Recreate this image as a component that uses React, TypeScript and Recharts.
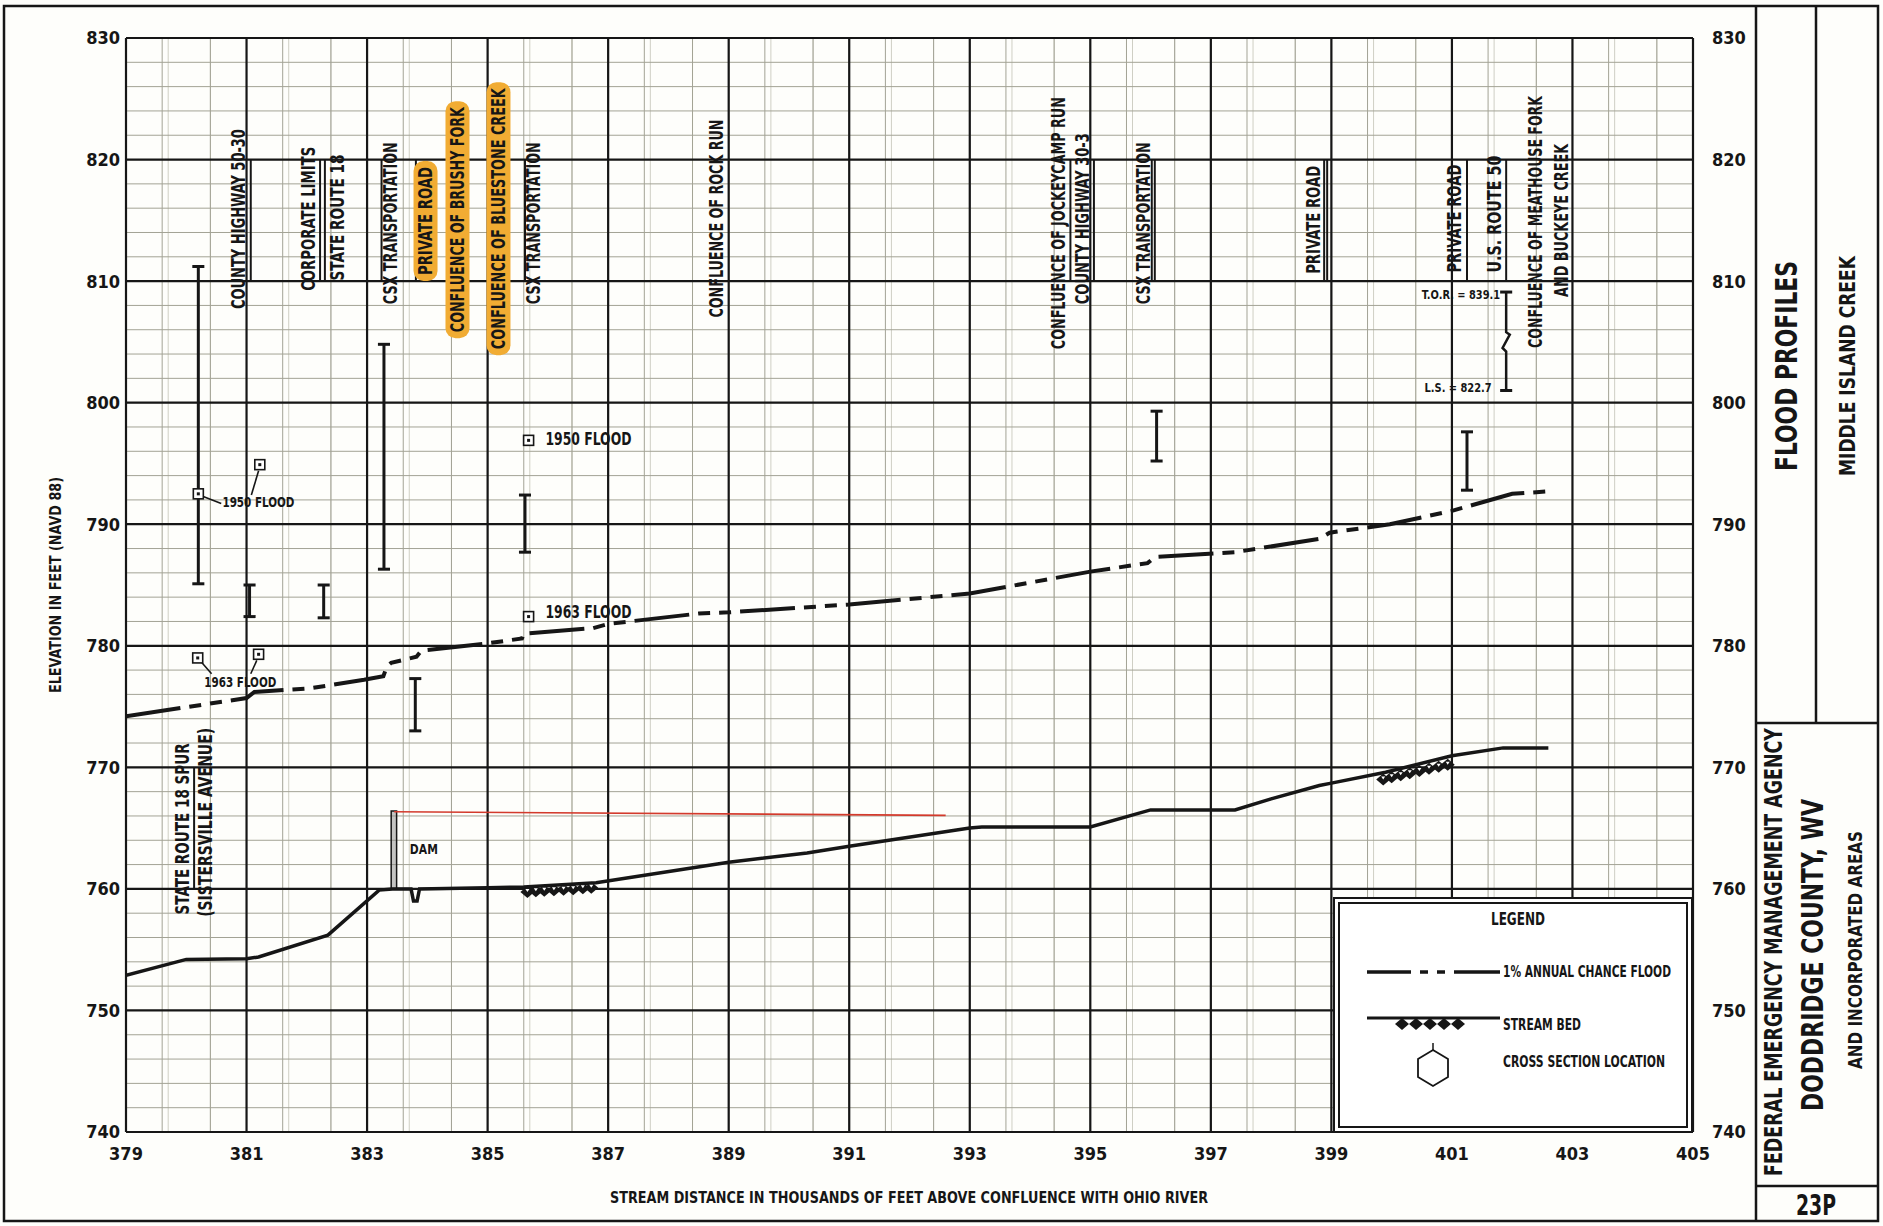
import React from "react"
import {
  ComposedChart,
  Line,
  Scatter,
  XAxis,
  YAxis,
  CartesianGrid,
  ReferenceLine,
  ReferenceArea,
} from "recharts"

const FONT = "'Liberation Sans Narrow', 'DejaVu Sans Condensed', 'Arial Narrow', sans-serif"
const INK = "#161616"

// axes
const xTicks = [379, 381, 383, 385, 387, 389, 391, 393, 395, 397, 399, 401, 403, 405]
const yTicks = [740, 750, 760, 770, 780, 790, 800, 810, 820, 830]
const fineX = Array.from({ length: 261 }, (_, i) => +(379 + i * 0.1).toFixed(1))
const minorX = Array.from({ length: 131 }, (_, i) => +(379 + i * 0.2).toFixed(1))
const minorY = Array.from({ length: 91 }, (_, i) => 740 + i)

// stream bed profile (thousand ft, ft)
const streamBed = [
  { x: 379, y: 752.9 },
  { x: 380.0, y: 754.2 },
  { x: 381.0, y: 754.25 },
  { x: 381.2, y: 754.4 },
  { x: 382.35, y: 756.2 },
  { x: 383.2, y: 759.9 },
  { x: 383.42, y: 760.0 },
  { x: 383.73, y: 760.0 },
  { x: 383.77, y: 759.0 },
  { x: 383.83, y: 759.0 },
  { x: 383.87, y: 760.0 },
  { x: 385.0, y: 760.1 },
  { x: 385.6, y: 760.15 },
  { x: 386.8, y: 760.5 },
  { x: 389.0, y: 762.2 },
  { x: 390.3, y: 762.95 },
  { x: 391.0, y: 763.5 },
  { x: 393.0, y: 765.0 },
  { x: 393.2, y: 765.1 },
  { x: 395.0, y: 765.1 },
  { x: 396.0, y: 766.5 },
  { x: 397.4, y: 766.5 },
  { x: 398.0, y: 767.4 },
  { x: 398.8, y: 768.5 },
  { x: 399.0, y: 768.7 },
  { x: 399.9, y: 769.6 },
  { x: 401.0, y: 770.95 },
  { x: 401.85, y: 771.6 },
  { x: 402.6, y: 771.6 },
]

// 1% annual chance flood
const floodProfile = [
  { x: 379, y: 774.2 },
  { x: 381.0, y: 775.7 },
  { x: 381.13, y: 776.2 },
  { x: 382.05, y: 776.5 },
  { x: 382.95, y: 777.2 },
  { x: 383.27, y: 777.5 },
  { x: 383.33, y: 778.3 },
  { x: 383.4, y: 778.6 },
  { x: 383.82, y: 779.1 },
  { x: 383.9, y: 779.6 },
  { x: 385.0, y: 780.2 },
  { x: 385.57, y: 780.6 },
  { x: 385.6, y: 781.0 },
  { x: 386.75, y: 781.45 },
  { x: 387.0, y: 781.8 },
  { x: 388.5, y: 782.65 },
  { x: 389.0, y: 782.75 },
  { x: 391.0, y: 783.4 },
  { x: 393.0, y: 784.3 },
  { x: 395.0, y: 786.1 },
  { x: 395.95, y: 786.8 },
  { x: 396.07, y: 787.3 },
  { x: 397.4, y: 787.7 },
  { x: 398.8, y: 788.8 },
  { x: 398.97, y: 789.3 },
  { x: 399.97, y: 790.0 },
  { x: 401.0, y: 791.1 },
  { x: 402.0, y: 792.5 },
  { x: 402.6, y: 792.7 },
]

const damPool = [
  { x: 383.45, y: 766.35 },
  { x: 392.6, y: 766.05 },
]

const torBar = [
  { x: 401.9, y: 809.1 },
  { x: 401.9, y: 805.8 },
  { x: 401.96, y: 805.6 },
  { x: 401.84, y: 804.5 },
  { x: 401.9, y: 804.2 },
  { x: 401.9, y: 801.0 },
]

const bedHatch = [
  { x: 385.66, y: 759.75 },
  { x: 385.8, y: 759.8 },
  { x: 385.94, y: 759.84 },
  { x: 386.1, y: 759.88 },
  { x: 386.26, y: 759.93 },
  { x: 386.42, y: 759.98 },
  { x: 386.58, y: 760.05 },
  { x: 386.72, y: 760.1 },
  { x: 399.86, y: 769.0 },
  { x: 400.0, y: 769.18 },
  { x: 400.15, y: 769.35 },
  { x: 400.3, y: 769.52 },
  { x: 400.46, y: 769.7 },
  { x: 400.62, y: 769.88 },
  { x: 400.78, y: 770.05 },
  { x: 400.93, y: 770.22 },
]

// bridges / structures
const bridgeLines = [
  { x: 380.13, lo: 760, hi: 770 },
  { x: 381.07, lo: 810, hi: 820 },
  { x: 382.22, lo: 810, hi: 820 },
  { x: 382.3, lo: 810, hi: 820 },
  { x: 383.24, lo: 810, hi: 820 },
  { x: 383.81, lo: 810, hi: 820 },
  { x: 385.62, lo: 810, hi: 820 },
  { x: 394.67, lo: 810, hi: 820 },
  { x: 395.06, lo: 810, hi: 820 },
  { x: 396.02, lo: 810, hi: 820 },
  { x: 396.07, lo: 810, hi: 820 },
  { x: 398.88, lo: 810, hi: 820 },
  { x: 398.93, lo: 810, hi: 820 },
  { x: 401.25, lo: 810, hi: 820 },
  { x: 401.9, lo: 810, hi: 820 },
]

// cross section I-bars
const crossSections = [
  { x: 380.2, lo: 785.1, hi: 811.2 },
  { x: 381.05, lo: 782.4, hi: 785.0 },
  { x: 382.28, lo: 782.3, hi: 785.0 },
  { x: 383.28, lo: 786.3, hi: 804.8 },
  { x: 383.8, lo: 773.0, hi: 777.3 },
  { x: 385.62, lo: 787.7, hi: 792.4 },
  { x: 396.1, lo: 795.2, hi: 799.3 },
  { x: 401.25, lo: 792.8, hi: 797.6 },
]
const torCaps = [
  { x: 401.9, y: 809.1 },
  { x: 401.9, y: 801.0 },
]

// vertical labels: x = centre, y = bottom of text
const structureLabels = [
  { x: 380.86, y: 807.7, text: "COUNTY HIGHWAY 50-30", hl: false },
  { x: 382.03, y: 809.2, text: "CORPORATE LIMITS", hl: false },
  { x: 382.5, y: 810.05, text: "STATE ROUTE 18", hl: false },
  { x: 383.39, y: 808.1, text: "CSX TRANSPORTATION", hl: false },
  { x: 383.97, y: 810.5, text: "PRIVATE ROAD", hl: true },
  { x: 384.5, y: 805.8, text: "CONFLUENCE OF BRUSHY FORK", hl: true },
  { x: 385.18, y: 804.4, text: "CONFLUENCE OF BLUESTONE CREEK", hl: true },
  { x: 385.76, y: 808.1, text: "CSX TRANSPORTATION", hl: false },
  { x: 388.79, y: 807.0, text: "CONFLUENCE OF ROCK RUN", hl: false },
  { x: 394.46, y: 804.4, text: "CONFLUENCE OF JOCKEYCAMP RUN", hl: false },
  { x: 394.87, y: 808.1, text: "COUNTY HIGHWAY 30-3", hl: false },
  { x: 395.87, y: 808.1, text: "CSX TRANSPORTATION", hl: false },
  { x: 398.7, y: 810.6, text: "PRIVATE ROAD", hl: false },
  { x: 401.03, y: 810.7, text: "PRIVATE ROAD", hl: false },
  { x: 401.7, y: 810.7, text: "U.S. ROUTE 50", hl: false },
  { x: 402.38, y: 804.5, text: "CONFLUENCE OF MEATHOUSE FORK", hl: false },
  { x: 402.82, y: 808.7, text: "AND BUCKEYE CREEK", hl: false },
  { x: 379.94, y: 757.9, text: "STATE ROUTE 18 SPUR", hl: false },
  { x: 380.31, y: 757.7, text: "(SISTERSVILLE AVENUE)", hl: false },
]

// high water marks and notes
const floodMarks = [
  { x: 380.2, y: 792.5 },
  { x: 381.22, y: 794.9 },
  { x: 385.68, y: 796.9 },
  { x: 380.19, y: 779.0 },
  { x: 381.2, y: 779.3 },
  { x: 385.68, y: 782.4 },
]
const floodTexts = [
  { x: 380.6, y: 791.8, text: "1950 FLOOD", kind: "small" },
  { x: 385.96, y: 797.0, text: "1950 FLOOD", kind: "big" },
  { x: 380.3, y: 777.0, text: "1963 FLOOD", kind: "small" },
  { x: 385.96, y: 782.8, text: "1963 FLOOD", kind: "big" },
  { x: 383.71, y: 763.3, text: "DAM", kind: "dam" },
  { x: 401.8, y: 808.9, text: "T.O.R. = 839.1", kind: "note" },
  { x: 401.66, y: 801.2, text: "L.S. = 822.7", kind: "note" },
]
const leaders = [
  { x1: 380.27, y1: 792.3, x2: 380.58, y2: 791.7 },
  { x1: 381.2, y1: 794.4, x2: 381.08, y2: 792.4 },
  { x1: 380.26, y1: 778.6, x2: 380.42, y2: 777.7 },
  { x1: 381.17, y1: 778.8, x2: 381.07, y2: 777.7 },
]

const textKinds: Record<string, { size: number; anchor: string; len: number }> = {
  small: { size: 14, anchor: "start", len: 72 },
  big: { size: 17, anchor: "start", len: 86 },
  dam: { size: 14, anchor: "start", len: 28 },
  note: { size: 12, anchor: "end", len: 0 },
}

const VLabel = (props: any) => {
  const { cx, cy, payload } = props
  const len = payload.text.length * 9
  return (
    <g transform={`rotate(-90 ${cx} ${cy})`}>
      {payload.hl && <rect x={cx - 6} y={cy - 12} width={len + 12} height={24} rx={10} fill="#f1ac33" />}
      <text
        x={cx}
        y={cy}
        dy="0.36em"
        textAnchor="start"
        fontSize={19}
        fontWeight="bold"
        fontFamily={FONT}
        fill={INK}
        textLength={len}
        lengthAdjust="spacingAndGlyphs"
      >
        {payload.text}
      </text>
    </g>
  )
}

const HLabel = (props: any) => {
  const { cx, cy, payload } = props
  const k = textKinds[payload.kind]
  const len = k.len || payload.text.length * 5.6
  return (
    <text
      x={cx}
      y={cy}
      dy="0.36em"
      textAnchor={k.anchor}
      fontSize={k.size}
      fontWeight="bold"
      fontFamily={FONT}
      fill={INK}
      textLength={len}
      lengthAdjust="spacingAndGlyphs"
    >
      {payload.text}
    </text>
  )
}

const FloodMark = (props: any) => {
  const { cx, cy } = props
  return (
    <g>
      <rect x={cx - 5} y={cy - 5} width={10} height={10} fill="#fff" stroke={INK} strokeWidth={1.6} />
      <rect x={cx - 1.5} y={cy - 1.5} width={3} height={3} fill={INK} />
    </g>
  )
}

const Hatch = (props: any) => {
  const { cx, cy } = props
  return (
    <g>
      <polygon points={`${cx - 7},${cy} ${cx},${cy - 6} ${cx + 7},${cy} ${cx},${cy + 6}`} fill={INK} />
      <polygon points={`${cx - 2},${cy - 3} ${cx + 2},${cy - 3} ${cx},${cy}`} fill="#fff" />
    </g>
  )
}

function FrameOverlay() {
  const t = (x: number, y: number, s: number, text: string, len: number, rot = true) => (
    <text
      x={x}
      y={y}
      dy="0.36em"
      textAnchor="middle"
      fontSize={s}
      fontWeight="bold"
      fontFamily={FONT}
      fill={INK}
      textLength={len}
      lengthAdjust="spacingAndGlyphs"
      transform={rot ? `rotate(-90 ${x} ${y})` : undefined}
    >
      {text}
    </text>
  )
  const lt = (x: number, y: number, text: string, len: number) => (
    <text
      x={x}
      y={y}
      dy="0.36em"
      fontSize={15}
      fontWeight="bold"
      fontFamily={FONT}
      fill={INK}
      textLength={len}
      lengthAdjust="spacingAndGlyphs"
    >
      {text}
    </text>
  )
  return (
    <svg width={1883} height={1226} style={{ position: "absolute", left: 0, top: 0, pointerEvents: "none" }}>
      <rect x={4} y={6} width={1874} height={1215} fill="none" stroke={INK} strokeWidth={2.5} />
      <line x1={1756} y1={6} x2={1756} y2={1221} stroke={INK} strokeWidth={2.5} />
      <line x1={1816} y1={6} x2={1816} y2={723} stroke={INK} strokeWidth={2.5} />
      <line x1={1756} y1={723} x2={1878} y2={723} stroke={INK} strokeWidth={2.5} />
      <line x1={1756} y1={1186} x2={1878} y2={1186} stroke={INK} strokeWidth={2.5} />
      {t(1786, 366, 31, "FLOOD PROFILES", 210)}
      {t(1847, 366, 21, "MIDDLE ISLAND CREEK", 220)}
      {t(1773, 952, 24, "FEDERAL EMERGENCY MANAGEMENT AGENCY", 448)}
      {t(1812, 955, 31, "DODDRIDGE COUNTY, WV", 312)}
      {t(1855, 950, 19, "AND INCORPORATED AREAS", 238)}
      {t(1816, 1205, 29, "23P", 40, false)}
      {t(56, 585, 15, "ELEVATION IN FEET (NAVD 88)", 216)}
      {t(909, 1197, 16, "STREAM DISTANCE IN THOUSANDS OF FEET ABOVE CONFLUENCE WITH OHIO RIVER", 598, false)}

      {/* legend box */}
      <rect x={1334} y={898} width={358} height={234} fill="#fff" stroke={INK} strokeWidth={2} />
      <rect x={1339} y={903} width={348} height={224} fill="none" stroke={INK} strokeWidth={2} />
      {t(1518, 919, 17, "LEGEND", 54, false)}
      <line x1={1367} y1={972} x2={1500} y2={972} stroke={INK} strokeWidth={3.5} strokeDasharray="44 9 8 9 8 9 50" />
      {lt(1503, 972, "1% ANNUAL CHANCE FLOOD", 168)}
      <line x1={1367} y1={1018} x2={1500} y2={1018} stroke={INK} strokeWidth={3} />
      {[1402, 1416, 1430, 1444, 1458].map((x) => (
        <polygon key={x} points={`${x - 7},${1024} ${x},${1018} ${x + 7},${1024} ${x},${1030}`} fill={INK} />
      ))}
      {lt(1503, 1025, "STREAM BED", 78)}
      <line x1={1433} y1={1043} x2={1433} y2={1050} stroke={INK} strokeWidth={1.5} />
      <polygon
        points="1433,1050 1448,1059 1448,1077 1433,1086 1418,1077 1418,1059"
        fill="none"
        stroke={INK}
        strokeWidth={1.8}
      />
      {lt(1503, 1062, "CROSS SECTION LOCATION", 162)}
    </svg>
  )
}

export default function App() {
  const tickStyle = { fontSize: 18, fontFamily: FONT, fontWeight: "bold", fill: INK }
  return (
    <div style={{ position: "absolute", left: 0, top: 0, width: 1883, height: 1226, background: "#fefefb" }}>
      <ComposedChart width={1883} height={1226} margin={{ top: 38, right: 130, bottom: 54, left: 66 }}>
        <XAxis
          dataKey="x"
          type="number"
          domain={[379, 405]}
          ticks={xTicks}
          allowDataOverflow
          tickLine={false}
          axisLine={false}
          tickSize={0}
          tickMargin={15}
          height={40}
          tick={tickStyle}
        />
        <YAxis
          type="number"
          domain={[740, 830]}
          ticks={yTicks}
          allowDataOverflow
          tickLine={false}
          axisLine={false}
          tickSize={0}
          tickMargin={6}
          width={60}
          tick={tickStyle}
        />
        <YAxis
          yAxisId="right"
          orientation="right"
          type="number"
          domain={[740, 830]}
          ticks={yTicks}
          allowDataOverflow
          tickLine={false}
          axisLine={false}
          tickSize={0}
          tickMargin={19}
          width={60}
          tick={tickStyle}
        />
        <CartesianGrid horizontal={false} verticalValues={fineX} stroke="#cfcfc4" strokeWidth={1} />
        <CartesianGrid verticalValues={minorX} horizontalValues={minorY} stroke="#a3a395" strokeWidth={1} />
        <CartesianGrid verticalValues={xTicks} horizontalValues={yTicks} stroke={INK} strokeWidth={2.2} />

        <ReferenceArea x1={383.4} x2={383.49} y1={760} y2={766.4} fill="#8a8a8a" stroke={INK} strokeWidth={1.5} ifOverflow="visible" />

        {bridgeLines.map((b, i) => (
          <ReferenceLine
            key={`b${i}`}
            segment={[{ x: b.x, y: b.lo }, { x: b.x, y: b.hi }]}
            stroke={INK}
            strokeWidth={2}
            ifOverflow="visible"
          />
        ))}
        {crossSections.map((c, i) => (
          <ReferenceLine key={`c${i}`} segment={[{ x: c.x, y: c.lo }, { x: c.x, y: c.hi }]} stroke={INK} strokeWidth={3} />
        ))}
        {crossSections.map((c, i) => (
          <ReferenceLine key={`cl${i}`} segment={[{ x: c.x - 0.1, y: c.lo }, { x: c.x + 0.1, y: c.lo }]} stroke={INK} strokeWidth={3} />
        ))}
        {crossSections.map((c, i) => (
          <ReferenceLine key={`ch${i}`} segment={[{ x: c.x - 0.1, y: c.hi }, { x: c.x + 0.1, y: c.hi }]} stroke={INK} strokeWidth={3} />
        ))}
        {torCaps.map((c, i) => (
          <ReferenceLine key={`t${i}`} segment={[{ x: c.x - 0.1, y: c.y }, { x: c.x + 0.1, y: c.y }]} stroke={INK} strokeWidth={3} />
        ))}
        {leaders.map((l, i) => (
          <ReferenceLine key={`l${i}`} segment={[{ x: l.x1, y: l.y1 }, { x: l.x2, y: l.y2 }]} stroke={INK} strokeWidth={1.6} />
        ))}

        <Line data={damPool} dataKey="y" stroke="#d33a2c" strokeWidth={1.6} dot={false} isAnimationActive={false} />
        <Line data={torBar} dataKey="y" stroke={INK} strokeWidth={2.5} dot={false} isAnimationActive={false} />
        <Line data={streamBed} dataKey="y" stroke={INK} strokeWidth={3.5} dot={false} isAnimationActive={false} />
        <Line
          data={floodProfile}
          dataKey="y"
          stroke={INK}
          strokeWidth={4}
          strokeDasharray="55 9 12 9 12 9"
          dot={false}
          isAnimationActive={false}
        />
        <Scatter data={bedHatch} dataKey="y" shape={Hatch} isAnimationActive={false} />
        <Scatter data={floodMarks} dataKey="y" shape={FloodMark} isAnimationActive={false} />
        <Scatter data={structureLabels} dataKey="y" shape={VLabel} isAnimationActive={false} />
        <Scatter data={floodTexts} dataKey="y" shape={HLabel} isAnimationActive={false} />
      </ComposedChart>
      <FrameOverlay />
    </div>
  )
}
